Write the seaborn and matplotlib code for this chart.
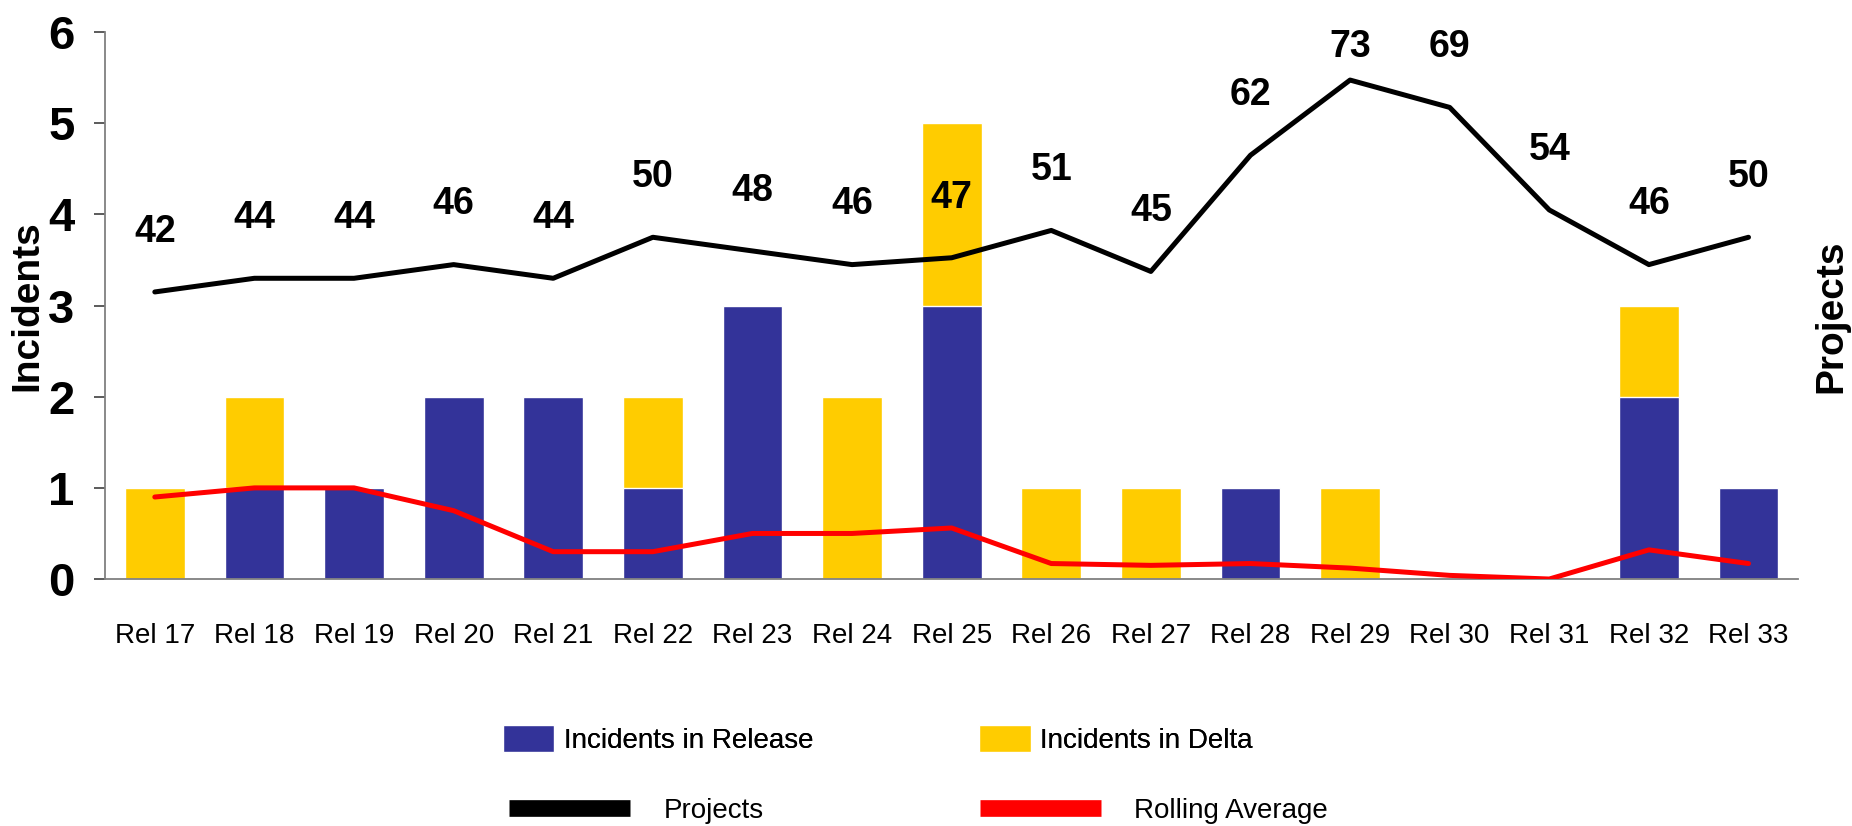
import numpy as np
import pandas as pd
import matplotlib
matplotlib.use("Agg")
import matplotlib.pyplot as plt
from matplotlib.patches import Patch
from matplotlib.lines import Line2D
import seaborn as sns

# data
releases = ["Rel 17", "Rel 18", "Rel 19", "Rel 20", "Rel 21", "Rel 22", "Rel 23", "Rel 24", "Rel 25",
            "Rel 26", "Rel 27", "Rel 28", "Rel 29", "Rel 30", "Rel 31", "Rel 32", "Rel 33"]
incidents_release = [0, 1, 1, 2, 2, 1, 3, 0, 3, 0, 0, 1, 0, 0, 0, 2, 1]
incidents_delta = [1, 1, 0, 0, 0, 1, 0, 2, 2, 1, 1, 0, 1, 0, 0, 1, 0]
rolling_avg = [0.9, 1.0, 1.0, 0.75, 0.3, 0.3, 0.5, 0.5, 0.56, 0.17, 0.15, 0.17, 0.12, 0.04, 0.0, 0.32, 0.17]
projects = [42, 44, 44, 46, 44, 50, 48, 46, 47, 51, 45, 62, 73, 69, 54, 46, 50]

BLUE = "#333399"
YELLOW = "#FFCC00"
RED = "#FF0000"

sns.set_theme(style="white")
plt.rcParams["font.family"] = ["Liberation Sans", "DejaVu Sans"]
plt.rcParams["text.color"] = "black"
plt.rcParams["axes.labelcolor"] = "black"
plt.rcParams["xtick.color"] = "black"
plt.rcParams["ytick.color"] = "black"

df = pd.DataFrame({
    "pos": np.arange(len(releases)),
    "release": incidents_release,
    "total": np.array(incidents_release) + np.array(incidents_delta),
    "rolling": rolling_avg,
    "projects": projects,
})

fig = plt.figure(figsize=(18.52, 8.26), dpi=100)
ax = fig.add_axes([0.0567, 0.299, 0.9143, 0.662])

# stacked bars: total (delta on top) then release drawn over it
sns.barplot(data=df, x="pos", y="total", color=YELLOW, saturation=1, width=0.6,
            errorbar=None, ax=ax, zorder=2)
sns.barplot(data=df, x="pos", y="release", color=BLUE, saturation=1, width=0.6,
            errorbar=None, ax=ax, zorder=2)
sns.lineplot(data=df, x="pos", y="rolling", color=RED, linewidth=3.6, ax=ax, zorder=4)

ax.set_xlim(-0.5, len(releases) - 0.5)
ax.set_ylim(0, 6)
ax.set_yticks(range(7))
ax.set_yticklabels([str(i) for i in range(7)], fontsize=34, fontweight="bold")
ax.set_xticks(df["pos"])
ax.set_xticklabels(releases, fontsize=20)
ax.set_xticks(np.arange(-0.5, len(releases)), minor=True)
ax.tick_params(axis="x", which="major", length=0, pad=32)
ax.tick_params(axis="x", which="minor", length=9, width=1.2, color="#404040", direction="out")
ax.tick_params(axis="y", length=8, width=1.2, color="#404040", direction="out", pad=14, left=True)
ax.set_xlabel("")
ax.set_ylabel("Incidents", fontsize=28, fontweight="bold")
ax.yaxis.set_label_coords(-0.035, 0.5)
for side in ["top", "right"]:
    ax.spines[side].set_visible(False)
for side in ["left", "bottom"]:
    ax.spines[side].set_color("#808080")
    ax.spines[side].set_linewidth(1.3)

# projects on hidden secondary axis
ax2 = ax.twinx()
sns.lineplot(data=df, x="pos", y="projects", color="black", linewidth=3.6, ax=ax2, zorder=5)
ax2.set_ylim(0, 80)
ax2.set_yticks([])
for side in ax2.spines:
    ax2.spines[side].set_visible(False)
ax2.set_ylabel("Projects", fontsize=28, fontweight="bold", rotation=90)
ax2.yaxis.set_label_coords(1.009, 0.48)
for x, v in zip(df["pos"], projects):
    ax2.text(x, min(v + 8.8, 77.8), str(v), ha="center", va="center",
             fontsize=27, fontweight="bold")

# legends
bar_handles = [Patch(facecolor=BLUE), Patch(facecolor=YELLOW)]
leg1 = fig.legend(bar_handles, ["Incidents in Release", "Incidents in Delta"], ncol=2,
                  loc="center left", bbox_to_anchor=(0.2656, 0.105), frameon=False,
                  fontsize=20, handlelength=1.85, handleheight=1.1, handletextpad=0.35,
                  columnspacing=5.96, borderaxespad=0)
line_handles = [Line2D([], [], color="black", linewidth=12, solid_capstyle="butt"),
                Line2D([], [], color=RED, linewidth=12, solid_capstyle="butt")]
leg2 = fig.legend(line_handles, ["Projects", "Rolling Average"], ncol=2,
                  loc="center left", bbox_to_anchor=(0.269, 0.018), frameon=False,
                  fontsize=20, handlelength=4.35, handletextpad=1.2,
                  columnspacing=7.8, borderaxespad=0)
fig.add_artist(leg1)

fig.savefig("out.png", dpi=100)
